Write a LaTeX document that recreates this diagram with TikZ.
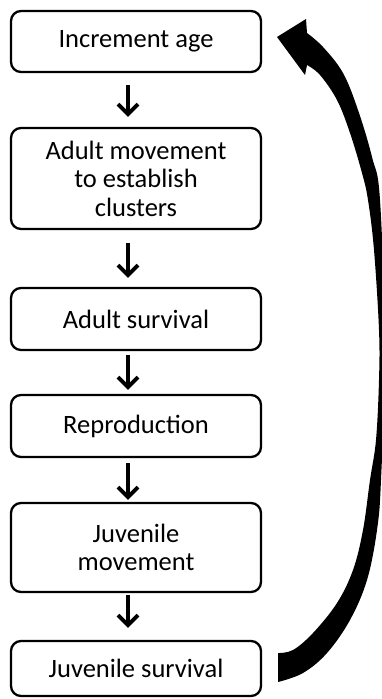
\documentclass[tikz,border=0pt]{standalone}
\usepackage{fontspec}
\setmainfont{Carlito}
\usetikzlibrary{arrows.meta}
\begin{document}
\begin{tikzpicture}[x=1pt,y=-1pt,
  stepbox/.style={draw=black,line width=2.3pt,rounded corners=10pt,minimum width=250pt,
    align=center,inner sep=0pt,font=\fontsize{26.5}{28.5}\selectfont},
  arr/.style={line width=3.8pt,-{Straight Barb[length=10pt,width=20pt]}}]
\useasboundingbox (0,0) rectangle (382,699);
\node[stepbox,minimum height=61pt] (b1) at (136,41.5) {Increment age};
\node[stepbox,minimum height=101pt] (b2) at (136,178.5) {Adult movement\\to establish\\clusters};
\node[stepbox,minimum height=62pt] (b3) at (136,319) {Adult survival};
\node[stepbox,minimum height=62pt] (b4) at (136,426) {Reproduction};
\node[stepbox,minimum height=89pt] (b5) at (136,547.5) {Juvenile\\movement};
\node[stepbox,minimum height=55pt] (b6) at (136,668.5) {Juvenile survival};
\draw[arr,shorten <=12pt,shorten >=10pt] ([xshift=-8pt]b1.south) -- ([xshift=-8pt]b2.north);
\draw[arr,shorten <=13pt,shorten >=9pt] ([xshift=-8pt]b2.south) -- ([xshift=-8pt]b3.north);
\draw[arr,shorten <=4pt,shorten >=4pt] ([xshift=-8pt]b3.south) -- ([xshift=-8pt]b4.north);
\draw[arr,shorten <=5pt,shorten >=2pt] ([xshift=-8pt]b4.south) -- ([xshift=-8pt]b5.north);
\draw[arr,shorten <=2pt,shorten >=12pt] ([xshift=-8pt]b5.south) -- ([xshift=-8pt]b6.north);
% big curved return arrow
\fill[black] plot[smooth,tension=0.6] coordinates {(278,682) (303,673) (327,653) (350,620) (367,580) (377,530) (381,480) (385,350) (380,200) (372,157) (358,110) (343,73) (323,47) (307,33)}
  -- (306,19) -- (277,37) -- (305,75) -- (307,65)
  -- plot[smooth,tension=0.6] coordinates {(307,65) (320,75) (337,100) (350,133) (362,173) (368,200) (374,250) (379,330) (379,380) (376,440) (370,480) (363,530) (353,570) (337,603) (313,633) (293,650) (278,653)}
  -- cycle;
\end{tikzpicture}
\end{document}
